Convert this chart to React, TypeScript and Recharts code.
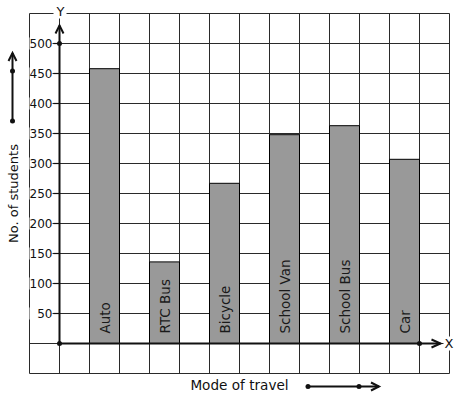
import React from 'react';
import {
  BarChart,
  Bar,
  XAxis,
  YAxis,
  CartesianGrid,
  ReferenceLine,
  ReferenceDot,
  LabelList,
} from 'recharts';

const MODES = ['Auto', 'RTC Bus', 'Bicycle', 'School Van', 'School Bus', 'Car'];
const STUDENTS = [458, 136, 267, 348, 363, 307];
const Y_LABELS = [50, 100, 150, 200, 250, 300, 350, 400, 450, 500];
const Y_GRID = [-50, 0, 50, 100, 150, 200, 250, 300, 350, 400, 450, 500, 550];
const X_GRID = [-1, 0, 1, 2, 3, 4, 5, 6, 7, 8, 9, 10, 11, 12, 13];

// every bar sits in its own column, with an empty column between
const data = MODES.map((mode, i) => ({ mode, slot: 2 * i + 1.5, students: STUDENTS[i] }));

const FONT = 'DejaVu Sans, sans-serif';
const INK = '#111';

const NoTick = () => <g />;

const BarText = (props: any) => {
  const { x, y, width, height, value } = props;
  const cx = Number(x) + Number(width) / 2;
  const by = Number(y) + Number(height) - 10;
  return (
    <text
      x={cx}
      y={by}
      transform={`rotate(-90 ${cx} ${by})`}
      textAnchor="start"
      dominantBaseline="central"
      fontSize={13.5}
      fontFamily={FONT}
      fill="#1a1a1a"
    >
      {value}
    </text>
  );
};

const TickDash = (props: any) => {
  const { x1, y1, x2, y2 } = props;
  return <line x1={x1} y1={y1} x2={x2} y2={y2} stroke={INK} strokeWidth={1.2} />;
};

const TickLabel = (props: any) => {
  const vb = props.viewBox;
  const right = vb.x - 1;
  return (
    <g>
      <rect x={right - 23} y={vb.y - 6} width={23} height={12} fill="#fff" />
      <text x={right} y={vb.y} textAnchor="end" dominantBaseline="central" fontSize={12} fontFamily={FONT} fill={INK}>
        {props.value}
      </text>
    </g>
  );
};

const YArrow = (props: any) => {
  const { x1, y1, x2, y2 } = props;
  return (
    <g>
      <line x1={x1} y1={y1} x2={x2} y2={y2} stroke={INK} strokeWidth={2} />
      <polyline points={`${x2 - 4},${y2 + 8} ${x2},${y2} ${x2 + 4},${y2 + 8}`} fill="none" stroke={INK} strokeWidth={2} />
      <rect x={x2 - 6} y={y2 - 21} width={13} height={14} fill="#fff" />
      <text x={x2 + 1} y={y2 - 10} textAnchor="middle" fontSize={13} fontFamily={FONT} fill={INK}>Y</text>
    </g>
  );
};

const XArrow = (props: any) => {
  const { x1, y1, x2, y2 } = props;
  return (
    <g>
      <line x1={x1} y1={y1} x2={x2} y2={y2} stroke={INK} strokeWidth={2} />
      <polyline points={`${x2 - 9},${y2 - 4} ${x2},${y2} ${x2 - 9},${y2 + 4}`} fill="none" stroke={INK} strokeWidth={2} />
      <rect x={x2 + 3} y={y2 - 7} width={11} height={14} fill="#fff" />
      <text x={x2 + 4} y={y2} dominantBaseline="central" fontSize={13} fontFamily={FONT} fill={INK}>X</text>
    </g>
  );
};

const YTitle = (props: any) => {
  const vb = props.viewBox;
  const cx = vb.x + 13;
  const cy = vb.y + vb.height / 2;
  const ax = vb.x + 12.5;
  return (
    <g>
      <text
        x={cx}
        y={cy}
        transform={`rotate(-90 ${cx} ${cy})`}
        textAnchor="middle"
        dominantBaseline="central"
        fontSize={13}
        fontFamily={FONT}
        fill={INK}
      >
        No. of students
      </text>
      <line x1={ax} y1={121} x2={ax} y2={53} stroke={INK} strokeWidth={2} />
      <polyline points={`${ax - 4},${61} ${ax},${53} ${ax + 4},${61}`} fill="none" stroke={INK} strokeWidth={2} />
      <circle cx={ax} cy={121} r={2.5} fill={INK} />
      <circle cx={ax} cy={71} r={2.5} fill={INK} />
    </g>
  );
};

const XTitle = (props: any) => {
  const vb = props.viewBox;
  const cx = vb.x + vb.width / 2;
  const ay = 386.5;
  return (
    <g>
      <text x={cx} y={390} textAnchor="middle" fontSize={13.6} fontFamily={FONT} fill={INK}>
        Mode of travel
      </text>
      <line x1={308} y1={ay} x2={379} y2={ay} stroke={INK} strokeWidth={2} />
      <polyline points={`${371},${ay - 4} ${379},${ay} ${371},${ay + 4}`} fill="none" stroke={INK} strokeWidth={2} />
      <circle cx={308} cy={ay} r={2.5} fill={INK} />
      <circle cx={359} cy={ay} r={2.5} fill={INK} />
    </g>
  );
};

export default function App() {
  return (
    <div style={{ position: 'absolute', left: 0, top: 0, background: '#fff' }}>
      <BarChart
        width={457}
        height={399}
        data={data}
        margin={{ top: 13.5, right: 7.5, left: 0, bottom: 0 }}
        style={{ fontFamily: FONT }}
      >
        <CartesianGrid
          stroke="#2a2a2a"
          strokeWidth={1}
          strokeOpacity={1}
          horizontalValues={Y_GRID}
          verticalValues={X_GRID}
        />
        <XAxis
          type="number"
          dataKey="slot"
          domain={[-1, 13]}
          ticks={X_GRID}
          height={25.5}
          axisLine={false}
          tickLine={false}
          tick={NoTick}
          label={{ content: XTitle }}
        />
        <YAxis
          type="number"
          domain={[-50, 550]}
          ticks={Y_GRID}
          width={29.5}
          axisLine={false}
          tickLine={false}
          tick={NoTick}
          label={{ content: YTitle }}
        />
        <Bar dataKey="students" barSize={30} fill="#999999" stroke="#000" strokeWidth={1} isAnimationActive={false}>
          <LabelList dataKey="mode" content={BarText} />
        </Bar>
        {Y_LABELS.map((v) => (
          <ReferenceLine
            key={v}
            segment={[{ x: -0.2, y: v }, { x: 0, y: v }]}
            shape={TickDash}
            label={{ value: v, content: TickLabel }}
          />
        ))}
        <ReferenceLine segment={[{ x: 0, y: 0 }, { x: 0, y: 530 }]} shape={YArrow} />
        <ReferenceLine segment={[{ x: 0, y: 0 }, { x: 12.7, y: 0 }]} shape={XArrow} />
        <ReferenceDot x={0} y={0} r={2.5} fill={INK} stroke="none" />
        <ReferenceDot x={0} y={500} r={2.5} fill={INK} stroke="none" />
        <ReferenceDot x={12} y={0} r={2.5} fill={INK} stroke="none" />
      </BarChart>
    </div>
  );
}
